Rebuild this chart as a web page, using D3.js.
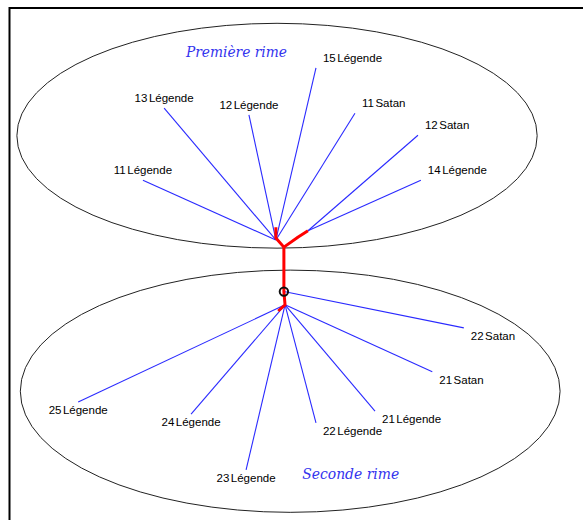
<!DOCTYPE html>
<meta charset="utf-8" />
<head>
  <script src="https://d3js.org/d3.v7.min.js"></script>
  <title>Rimes</title>
  <style>
    body {
      margin: 0;
      background: #fff;
    }
    .leaf-label {
      font-family: "Liberation Sans", Arial, sans-serif;
      font-size: 11.5px;
      fill: #000;
    }
    .rime-title {
      font-family: "DejaVu Serif", serif;
      font-style: italic;
      font-size: 14px;
      fill: #3333ee;
    }
  </style>
</head>
<body>
  <svg id="chart" width="583" height="520"></svg>
</body>

<script>
  // diagram units: 0-100 across and down the framed area
  const topLabels = ["11Légende", "13Légende", "12Légende", "15Légende", "11Satan", "12Satan", "14Légende"];
  const topX = [23.2, 26.9, 41.7, 53.4, 60.2, 71.2, 71.7];
  const topY = [33.5, 19.4, 20.7, 11.5, 20.4, 24.7, 33.5];
  const topHub = ["L", "L", "L", "L", "L", "R", "R"];

  const bottomLabels = ["22Satan", "21Satan", "21Légende", "22Légende", "23Légende", "24Légende", "25Légende"];
  const bottomX = [79.2, 73.7, 63.7, 53.4, 41.2, 31.6, 11.9];
  const bottomY = [62.4, 71.0, 78.7, 81.0, 90.2, 79.3, 76.9];
  const bottomHub = ["C", "B", "B", "B", "B", "B", "B"];

  // hub points where the leaves meet
  const hubNames = ["L", "R", "B", "C"];
  const hubX = [46.4, 52.0, 48.0, 47.8];
  const hubY = [45.2, 43.4, 57.9, 55.3];

  // red stem
  const stemLeftX = [46.4, 46.4, 47.8];
  const stemLeftY = [42.7, 44.8, 46.6];
  const stemRightX = [52.0, 50.3, 47.8];
  const stemRightY = [43.4, 44.6, 46.6];
  const trunkX = [47.8, 47.8, 48.0, 46.8];
  const trunkY = [46.6, 55.3, 57.9, 59.1];

  const rimeNames = ["Première rime", "Seconde rime"];
  const rimeCx = [46.6, 48.9];
  const rimeCy = [24.8, 74.8];
  const rimeRx = [45.4, 47.1];
  const rimeRy = [22.0, 23.7];
  const titleX = [30.7, 51.0];
  const titleY = [9.4, 92.0];

  const chart = () => {
    const svg = d3.select("#chart");
    const margin = { top: 9, left: 10 },
      width = +svg.attr("width") - margin.left,
      height = +svg.attr("height") - margin.top;

    const x = d3.scaleLinear().domain([0, 100]).range([margin.left, margin.left + width]);
    const y = d3.scaleLinear().domain([0, 100]).range([margin.top, margin.top + height]);

    const hubs = {};
    hubNames.forEach((n, i) => (hubs[n] = { x: hubX[i], y: hubY[i] }));

    const leaves = topLabels
      .map((label, i) => ({ label, x: topX[i], y: topY[i], hub: hubs[topHub[i]], pos: "top" }))
      .concat(
        bottomLabels.map((label, i) => ({ label, x: bottomX[i], y: bottomY[i], hub: hubs[bottomHub[i]], pos: "bottom" }))
      );

    // frame
    svg
      .append("path")
      .attr("d", `M${margin.left - 0.5},${height + margin.top}V${margin.top - 1}H${width + margin.left}`)
      .attr("fill", "none")
      .attr("stroke", "#000")
      .attr("stroke-width", 2);

    // the two rimes
    svg
      .selectAll(".rime")
      .data(rimeNames)
      .enter()
      .append("ellipse")
      .attr("class", "rime")
      .attr("cx", (d, i) => x(rimeCx[i]))
      .attr("cy", (d, i) => y(rimeCy[i]))
      .attr("rx", (d, i) => x(rimeRx[i]) - x(0))
      .attr("ry", (d, i) => y(rimeRy[i]) - y(0))
      .attr("fill", "none")
      .attr("stroke", "#222")
      .attr("stroke-width", 1);

    svg
      .selectAll(".rime-title")
      .data(rimeNames)
      .enter()
      .append("text")
      .attr("class", "rime-title")
      .attr("x", (d, i) => x(titleX[i]))
      .attr("y", (d, i) => y(titleY[i]))
      .attr("textLength", (d, i) => (i === 0 ? 101 : 97))
      .attr("lengthAdjust", "spacingAndGlyphs")
      .text((d) => d);

    // blue leaves
    svg
      .selectAll(".leaf")
      .data(leaves)
      .enter()
      .append("line")
      .attr("class", "leaf")
      .attr("x1", (d) => x(d.hub.x))
      .attr("y1", (d) => y(d.hub.y))
      .attr("x2", (d) => x(d.x))
      .attr("y2", (d) => y(d.y))
      .attr("stroke", "#2a2aff")
      .attr("stroke-width", 1.1);

    const line = d3
      .line()
      .x((d) => x(d[0]))
      .y((d) => y(d[1]));

    const stems = [
      d3.zip(stemLeftX, stemLeftY),
      d3.zip(stemRightX, stemRightY),
      d3.zip(trunkX, trunkY),
    ];

    svg
      .selectAll(".stem")
      .data(stems)
      .enter()
      .append("path")
      .attr("class", "stem")
      .attr("d", line)
      .attr("fill", "none")
      .attr("stroke", "#ff0000")
      .attr("stroke-width", 3)
      .attr("stroke-linejoin", "round");

    svg
      .append("circle")
      .attr("cx", x(hubs.C.x))
      .attr("cy", y(hubs.C.y))
      .attr("r", 4.2)
      .attr("fill", "none")
      .attr("stroke", "#111")
      .attr("stroke-width", 2);

    // labels: number + word
    const labels = svg
      .selectAll(".leaf-label")
      .data(leaves)
      .enter()
      .append("text")
      .attr("class", "leaf-label")
      .attr("text-anchor", (d) => (d.x > d.hub.x ? "start" : "middle"))
      .attr("x", (d) => x(d.x) + (d.x > d.hub.x ? 7 : 0))
      .attr("y", (d) => y(d.y) + (d.pos === "top" ? -6 : 12));

    labels.append("tspan").text((d) => d.label.match(/^\d+/)[0]);
    labels
      .append("tspan")
      .attr("dx", 1.5)
      .text((d) => d.label.replace(/^\d+/, ""));
  };

  chart();
</script>
